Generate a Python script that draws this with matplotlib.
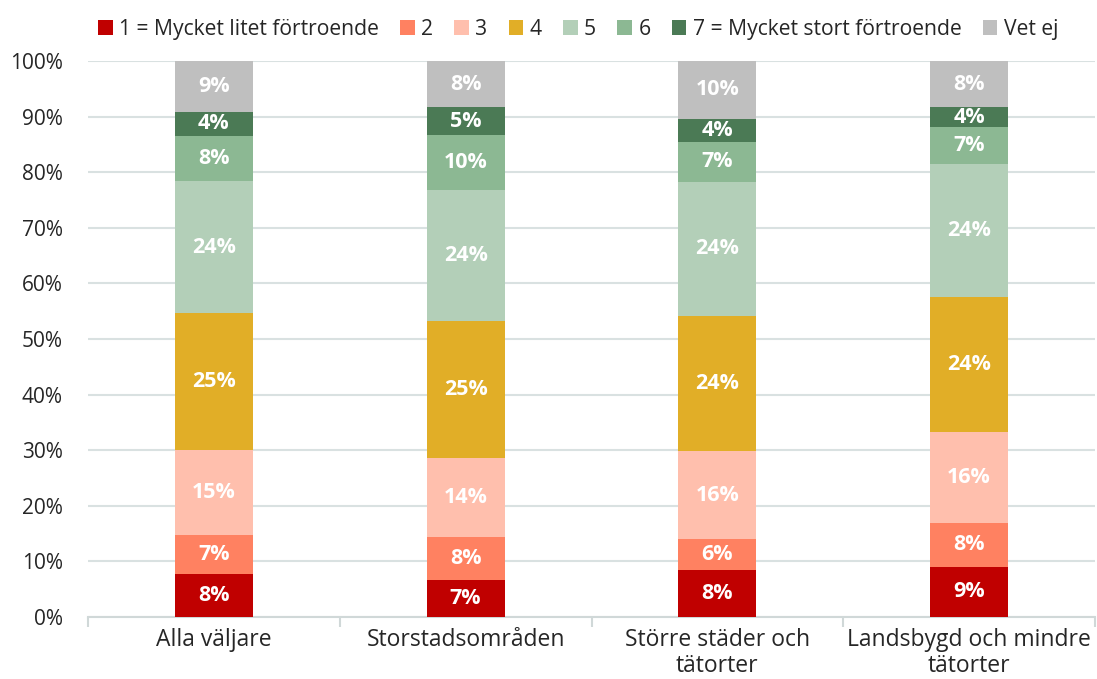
import matplotlib
matplotlib.use('Agg')
import matplotlib.pyplot as plt
import numpy as np

categories = ['Alla väljare', 'Storstadsområden', 'Större städer och\ntätorter',
              'Landsbygd och mindre\ntätorter']
series = ['1 = Mycket litet förtroende', '2', '3', '4', '5', '6',
          '7 = Mycket stort förtroende', 'Vet ej']
colors = ['#c00000', '#ff8161', '#ffbfad', '#e1ae27', '#b3cfb8', '#8cb893', '#4b7a55', '#bfbfbf']

# values in percent, one list per series (order of categories)
v1 = [7.7, 6.6, 8.4, 9.0]
v2 = [7.0, 7.8, 5.6, 7.9]
v3 = [15.3, 14.2, 15.8, 16.4]
v4 = [24.6, 24.6, 24.4, 24.3]
v5 = [23.8, 23.6, 24.1, 23.9]
v6 = [8.1, 9.9, 7.2, 6.6]
v7 = [4.4, 5.0, 4.1, 3.6]
vet_ej = [9.1, 8.3, 10.4, 8.3]
values = [v1, v2, v3, v4, v5, v6, v7, vet_ej]

plt.rcParams['font.family'] = ['Open Sans', 'DejaVu Sans']
text_color = '#262626'

fig = plt.figure(figsize=(10.97, 6.79), dpi=100)
ax = fig.add_axes([88 / 1097, 62 / 679, 1007 / 1097, 556 / 679])

x = np.arange(len(categories))
bottom = np.zeros(len(categories))
for name, vals, col in zip(series, values, colors):
    vals = np.array(vals)
    ax.bar(x, vals, width=0.31, bottom=bottom, color=col, label=name, zorder=3)
    for xi, b, v in zip(x, bottom, vals):
        ax.text(xi, b + v / 2, '{:.0f}%'.format(v), ha='center', va='center',
                color='white', fontsize=15.5, fontweight='bold', zorder=4)
    bottom += vals

ax.set_xlim(-0.5, len(categories) - 0.5)
ax.set_ylim(0, 100)
ax.set_yticks(np.arange(0, 101, 10))
ax.set_yticklabels(['{}%'.format(t) for t in range(0, 101, 10)], fontsize=15, color=text_color)
ax.yaxis.grid(True, color='#d9e1e1', linewidth=1.5, zorder=0)
ax.set_axisbelow(True)
ax.tick_params(axis='y', length=0, pad=18)

ax.set_xticks(x)
ax.set_xticklabels(categories, fontsize=16.5, color=text_color, linespacing=1.08)
ax.tick_params(axis='x', which='major', length=0, pad=8)
ax.set_xticks(np.arange(-0.5, len(categories), 1), minor=True)
ax.tick_params(axis='x', which='minor', length=7, width=1.5, color='#d0d8d8')

for s in ['top', 'right', 'left']:
    ax.spines[s].set_visible(False)
ax.spines['bottom'].set_color('#d0d8d8')
ax.spines['bottom'].set_linewidth(1.5)

leg = fig.legend(loc='upper center', bbox_to_anchor=(0.527, 1.0), ncol=8, frameon=False,
                 fontsize=15.2, handlelength=0.7, handleheight=0.7, handletextpad=0.3,
                 columnspacing=1.0, labelcolor=text_color)

fig.savefig('out.png', dpi=100)
